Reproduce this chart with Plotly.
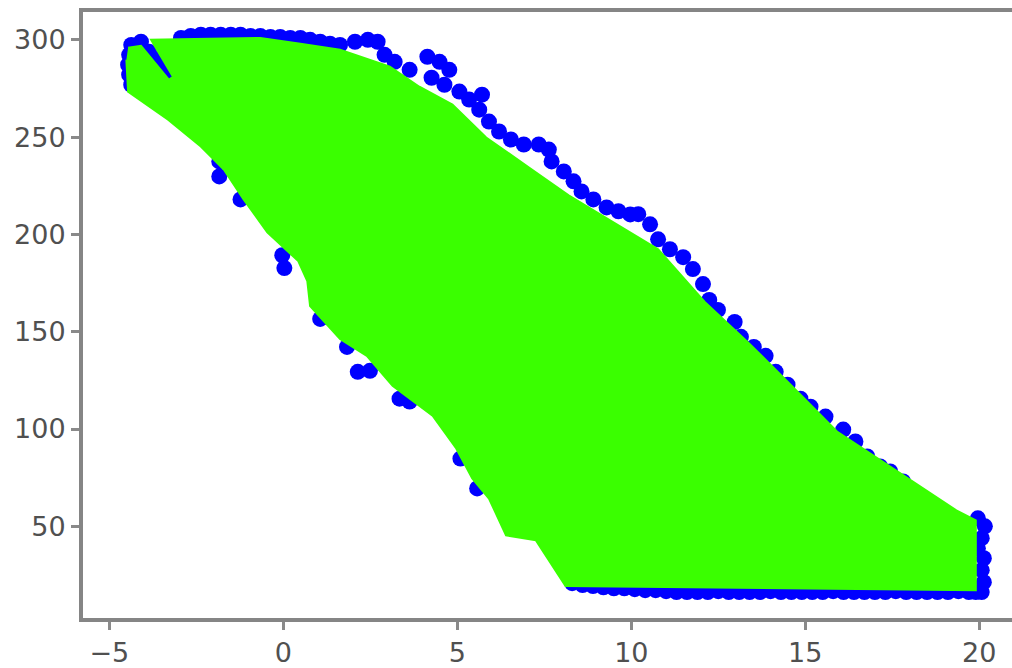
import plotly.graph_objects as go

# Green band outline (data coordinates)
band_x = [-4.46, -4.09, -3.29, -3.17, -3.8, -0.66, 0.49, 1.63, 3.06, 3.91, 4.86, 5.83, 7.06,
          8.2, 9.63, 10.77, 12.11, 13.34, 14.49, 15.91, 17.83, 19.34, 19.9, 19.9, 8.11,
          7.26, 6.4, 5.91, 5.43, 4.97, 4.29, 3.14, 2.4, 1.63, 0.77, 0.69, 0.43, -0.46,
          -1.14, -1.71, -2.37, -3.31, -4.46, -4.51]
band_y = [295.9, 296.9, 279.5, 281.0, 300.0, 301.0, 298.0, 294.9, 286.2, 275.9, 266.7, 249.8,
          234.4, 220.1, 204.7, 192.4, 165.3, 144.8, 124.3, 98.7, 76.1, 58.2, 53.1, 17.2,
          19.3, 42.8, 45.4, 64.3, 74.6, 90.0, 106.9, 122.2, 137.6, 146.3, 163.2, 176.0,
          186.3, 201.1, 218.0, 233.4, 245.2, 259.0, 273.4, 289.8]

# Blue points: top-left cluster
tl_x = [-4.37, -4.43, -4.46, -4.43, -4.37, -4.09, -3.86, -3.63, -3.43, -3.29]
tl_y = [297.4, 292.3, 287.2, 282.1, 276.9, 299.0, 293.9, 289.8, 284.6, 281.0]

# Blue points: top edge
top_x = [-2.94, -2.66, -2.37, -2.09, -1.8, -1.51, -1.23, -0.94, -0.66, -0.37, -0.09, 0.2,
         0.49, 0.77, 1.06, 1.34, 1.63, 2.06, 2.43, 2.71, 2.91, 3.2, 3.63]
top_y = [301.0, 302.0, 302.6, 302.6, 302.6, 302.6, 302.6, 302.0, 302.0, 301.5, 301.5, 301.0,
         301.0, 300.0, 299.0, 298.0, 297.4, 299.0, 300.0, 299.0, 292.3, 288.7, 284.6]

# Blue points: upper-right edge
ur_x = [4.14, 4.49, 4.77, 4.26, 4.63, 5.06, 5.34, 5.71, 5.63, 5.91, 6.2, 6.54, 6.91, 7.34,
        7.63, 7.71, 8.06, 8.34, 8.57, 8.91, 9.29, 9.63, 9.97, 10.2, 10.54, 10.77, 11.11,
        11.49, 11.77, 12.06, 12.24, 12.49, 12.97, 13.15, 13.52, 13.86, 14.15, 14.49, 14.86,
        15.15, 15.58, 16.09, 16.44, 16.78, 17.15, 17.44, 17.81, 18.15, 18.58, 18.95]
ur_y = [291.3, 288.7, 284.6, 280.5, 276.9, 273.4, 269.3, 271.8, 264.1, 258.0, 252.9, 248.8,
        246.2, 246.2, 243.6, 237.5, 232.4, 227.3, 222.1, 218.0, 213.9, 211.9, 210.3, 210.4,
        205.2, 197.5, 192.4, 188.3, 182.2, 174.5, 166.3, 161.2, 155.0, 147.4, 142.2, 137.6,
        129.4, 122.8, 115.6, 111.5, 106.4, 99.7, 93.6, 85.9, 80.8, 78.2, 73.1, 66.9, 60.3,
        56.7]

# Blue points: right end
re_x = [19.96, 20.16, 20.07, 19.96, 20.13, 20.07, 20.13, 20.07]
re_y = [54.1, 50.0, 43.9, 38.7, 33.6, 27.5, 21.3, 16.2]

# Blue points: bottom edge
bot_x = [8.3, 8.6, 8.9, 9.2, 9.5, 9.8, 10.1, 10.4, 10.7, 11.0, 11.3, 11.6, 11.9, 12.2, 12.5,
         12.8, 13.1, 13.4, 13.7, 14.0, 14.3, 14.6, 14.9, 15.2, 15.5, 15.8, 16.1, 16.4, 16.7,
         17.0, 17.3, 17.6, 17.9, 18.2, 18.5, 18.8, 19.1, 19.4, 19.7, 19.9]
bot_y = [20.8, 19.8, 19.3, 18.7, 18.2, 18.2, 17.7, 17.2, 17.2, 16.7, 16.2, 16.2, 16.2, 16.2,
         16.7, 16.2, 16.2, 16.2, 16.2, 16.7, 16.2, 16.2, 16.2, 16.2, 16.2, 16.7, 16.2, 16.2,
         16.2, 16.2, 16.2, 16.7, 16.2, 16.2, 16.2, 16.2, 16.2, 16.7, 16.2, 16.2]

# Blue points: lower-left edge
ll_x = [-2.57, -1.84, -1.84, -1.23, -0.03, 0.03, 1.06, 1.83, 2.14, 2.49, 3.34, 3.63, 5.09,
        5.57, 6.26, 7.14]
ll_y = [254.9, 237.5, 229.8, 218.0, 189.3, 182.7, 156.6, 142.2, 129.4, 129.9, 115.6, 114.1,
        84.8, 69.5, 61.8, 50.5]

x_ticks = [-5, 0, 5, 10, 15, 20]
y_ticks = [50, 100, 150, 200, 250, 300]

pts_x = tl_x + top_x + ur_x + re_x + bot_x + ll_x
pts_y = tl_y + top_y + ur_y + re_y + bot_y + ll_y

fig = go.Figure()
fig.add_trace(go.Scatter(x=pts_x, y=pts_y, mode="markers",
                         marker=dict(color="#0000ff", size=16, line=dict(width=0)),
                         showlegend=False, hoverinfo="skip"))
fig.add_trace(go.Scatter(x=band_x, y=band_y, mode="lines", fill="toself",
                         fillcolor="#3aff00", line=dict(color="#3aff00", width=2),
                         showlegend=False, hoverinfo="skip"))

axis_common = dict(showgrid=False, zeroline=False, showline=True, linecolor="#858585",
                   linewidth=4, ticks="outside", ticklen=8, tickwidth=3, tickcolor="#8a8a8a",
                   tickfont=dict(family="DejaVu Sans", size=27, color="#505050"))
fig.update_xaxes(range=[-5.756, 20.94], tickvals=x_ticks, mirror=True, **axis_common)
fig.update_yaxes(range=[2.9, 314.3], tickvals=y_ticks, mirror=False, **axis_common)
fig.update_layout(width=1012, height=668, margin=dict(l=83, r=0, t=12, b=48),
                  plot_bgcolor="white", paper_bgcolor="white")
fig.write_html("out.html", config={"displayModeBar": False},
               post_script="document.body.style.margin='0';")
